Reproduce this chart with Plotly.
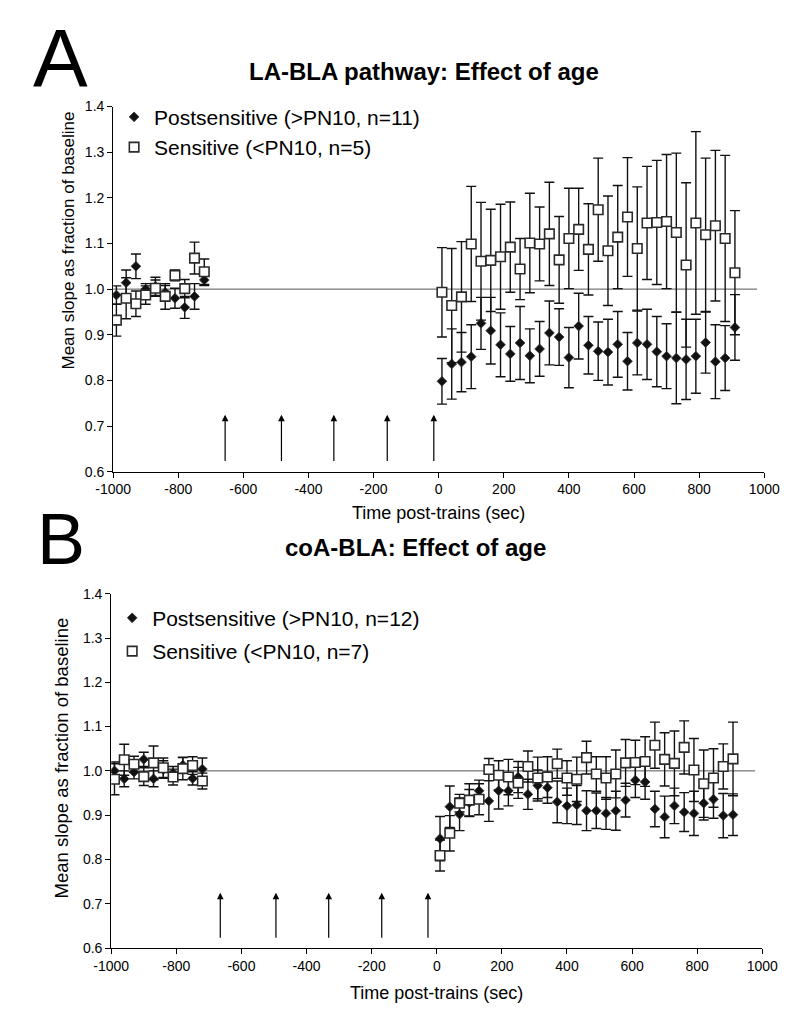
import plotly.graph_objects as go

# ---------------- data ----------------
pre_t = [-990, -960, -930, -900, -870, -840, -810, -780, -750, -720]
post_t = [10, 40, 70, 100, 130, 160, 190, 220, 250, 280, 310, 340, 370, 400, 430,
          460, 490, 520, 550, 580, 610, 640, 670, 700, 730, 760, 790, 820, 850, 880, 910]
time = pre_t + post_t

# Panel A: LA-BLA pathway
a_post_mean = [0.987, 1.014, 1.050, 1.000, 1.006, 0.993, 0.980, 0.960, 0.984, 1.020,
               0.798, 0.836, 0.840, 0.852, 0.925, 0.909, 0.878, 0.858, 0.882, 0.854,
               0.869, 0.904, 0.895, 0.850, 0.919, 0.877, 0.864, 0.862, 0.879, 0.842,
               0.882, 0.879, 0.863, 0.853, 0.849, 0.846, 0.853, 0.883, 0.841, 0.849, 0.916]
a_post_err = [0.020, 0.028, 0.027, 0.012, 0.020, 0.015, 0.022, 0.024, 0.028, 0.012,
              0.050, 0.077, 0.065, 0.070, 0.057, 0.073, 0.070, 0.060, 0.080, 0.059,
              0.060, 0.070, 0.062, 0.066, 0.072, 0.063, 0.064, 0.072, 0.072, 0.063,
              0.070, 0.077, 0.077, 0.071, 0.100, 0.088, 0.081, 0.067, 0.081, 0.071, 0.072]
a_sens_mean = [0.932, 0.980, 0.968, 0.987, 1.002, 0.984, 1.030, 1.001, 1.068, 1.038,
               0.993, 0.964, 0.983, 1.099, 1.061, 1.063, 1.071, 1.092, 1.044, 1.101,
               1.099, 1.121, 1.064, 1.111, 1.131, 1.087, 1.174, 1.084, 1.114, 1.158,
               1.089, 1.145, 1.146, 1.148, 1.124, 1.053, 1.145, 1.119, 1.139, 1.111, 1.036]
a_sens_err = [0.035, 0.045, 0.028, 0.020, 0.018, 0.028, 0.012, 0.020, 0.035, 0.028,
              0.098, 0.125, 0.121, 0.126, 0.129, 0.112, 0.115, 0.099, 0.067, 0.109,
              0.081, 0.113, 0.095, 0.110, 0.090, 0.100, 0.113, 0.120, 0.113, 0.130,
              0.135, 0.124, 0.136, 0.147, 0.174, 0.180, 0.200, 0.168, 0.165, 0.182, 0.136]
a_arrows = [-656, -483, -322, -158, -15]

# Panel B: coA-BLA
b_post_mean = [1.000, 0.982, 0.997, 1.026, 0.982, 1.003, 0.995, 1.013, 0.983, 1.004,
               0.847, 0.919, 0.902, 0.928, 0.955, 0.932, 0.955, 0.955, 0.986, 0.947,
               0.967, 0.962, 0.930, 0.921, 0.923, 0.910, 0.910, 0.904, 0.910, 0.934,
               0.979, 0.975, 0.914, 0.896, 0.921, 0.907, 0.904, 0.927, 0.936, 0.899, 0.901]
b_post_err = [0.020, 0.018, 0.015, 0.016, 0.018, 0.020, 0.015, 0.018, 0.015, 0.025,
              0.050, 0.047, 0.037, 0.030, 0.024, 0.046, 0.041, 0.034, 0.035, 0.034,
              0.035, 0.035, 0.047, 0.040, 0.044, 0.045, 0.040, 0.036, 0.044, 0.038,
              0.039, 0.039, 0.040, 0.047, 0.040, 0.044, 0.050, 0.038, 0.043, 0.050, 0.047]
b_sens_mean = [0.981, 1.025, 1.015, 0.987, 1.018, 1.007, 0.986, 1.005, 1.012, 0.977,
               0.809, 0.859, 0.927, 0.934, 0.936, 1.003, 0.990, 0.986, 0.973, 1.010,
               0.984, 0.986, 1.016, 0.984, 0.981, 1.030, 0.993, 0.984, 0.993, 1.018,
               1.019, 1.021, 1.058, 1.026, 1.017, 1.053, 1.002, 0.971, 0.984, 1.010, 1.027]
b_sens_err = [0.035, 0.035, 0.018, 0.020, 0.038, 0.022, 0.018, 0.025, 0.020, 0.018,
              0.035, 0.040, 0.020, 0.037, 0.035, 0.025, 0.033, 0.040, 0.035, 0.035,
              0.047, 0.046, 0.033, 0.039, 0.050, 0.037, 0.039, 0.048, 0.054, 0.053,
              0.050, 0.056, 0.052, 0.060, 0.073, 0.060, 0.071, 0.076, 0.066, 0.051, 0.083]
b_arrows = [-665, -494, -332, -169, -27]

baseline = 1.0
baseline_end = 978
arrow_from, arrow_to = 0.62, 0.725

x_ticks = [-1000, -800, -600, -400, -200, 0, 200, 400, 600, 800, 1000]
x_tick_text = ["-1000", "-800", "-600", "-400", "-200", "0", "200", "400", "600", "800", "1000"]
y_ticks = [0.6, 0.7, 0.8, 0.9, 1.0, 1.1, 1.2, 1.3, 1.4]

labels_a = ["Postsensitive (>PN10, n=11)", "Sensitive (<PN10, n=5)"]
labels_b = ["Postsensitive (>PN10, n=12)", "Sensitive (<PN10, n=7)"]

FONT = "Liberation Sans, Arial, sans-serif"
W, H = 800, 1012

fig = go.Figure()


def add_panel(fig, xa, ya, legend, post_m, post_e, sens_m, sens_e, labels):
    fig.add_trace(go.Scatter(
        x=time, y=post_m, mode="markers", name=labels[0],
        xaxis=xa, yaxis=ya, legend=legend, legendgroup=legend + "p",
        marker=dict(symbol="diamond", size=7.5, color="#111111",
                    line=dict(color="#333333", width=0.8)),
        error_y=dict(type="data", array=post_e, visible=True,
                     color="#111111", thickness=1.4, width=5),
    ))
    fig.add_trace(go.Scatter(
        x=time, y=sens_m, mode="markers", name=labels[1],
        xaxis=xa, yaxis=ya, legend=legend, legendgroup=legend + "s",
        marker=dict(symbol="square", size=9.5, color="white",
                    line=dict(color="#2a2a2a", width=1.6)),
        error_y=dict(type="data", array=sens_e, visible=True,
                     color="#111111", thickness=1.4, width=5),
    ))


add_panel(fig, "x", "y", "legend", a_post_mean, a_post_err, a_sens_mean, a_sens_err, labels_a)
add_panel(fig, "x2", "y2", "legend2", b_post_mean, b_post_err, b_sens_mean, b_sens_err, labels_b)


def px_x(p):
    return p / W


def px_y(p):
    return 1 - p / H


axis_common = dict(
    showgrid=False, zeroline=False, showline=True, linecolor="black", linewidth=1,
    ticks="outside", ticklen=5, tickcolor="black", tickwidth=1,
    tickfont=dict(family=FONT, size=14, color="black"),
)

fig.update_layout(
    width=W, height=H,
    margin=dict(l=0, r=0, t=0, b=0),
    paper_bgcolor="white", plot_bgcolor="white",
    font=dict(family=FONT, color="black"),
    xaxis=dict(domain=[px_x(91), px_x(771)], range=[-1000, 1000], tickvals=x_ticks,
               ticktext=x_tick_text, anchor="y", **axis_common),
    yaxis=dict(domain=[px_y(463), px_y(92)], range=[0.6, 1.4], tickvals=y_ticks,
               tickformat=".1f", anchor="x", **axis_common),
    xaxis2=dict(domain=[px_x(89), px_x(769)], range=[-1000, 1000], tickvals=x_ticks,
                ticktext=x_tick_text, anchor="y2", **axis_common),
    yaxis2=dict(domain=[px_y(947), px_y(587)], range=[0.6, 1.4], tickvals=y_ticks,
                tickformat=".1f", anchor="x2", **axis_common),
    legend=dict(x=px_x(92), y=px_y(82), xanchor="left", yanchor="top",
                bgcolor="rgba(0,0,0,0)", font=dict(family=FONT, size=21, color="black"),
                itemsizing="trace", traceorder="grouped", tracegroupgap=0),
    legend2=dict(x=px_x(90), y=px_y(591), xanchor="left", yanchor="top",
                 bgcolor="rgba(0,0,0,0)", font=dict(family=FONT, size=21, color="black"),
                 itemsizing="trace", traceorder="grouped", tracegroupgap=3),
    showlegend=True,
)

# baseline reference lines
for xr, yr in (("x", "y"), ("x2", "y2")):
    fig.add_shape(type="line", xref=xr, yref=yr, x0=-1000, x1=baseline_end,
                  y0=baseline, y1=baseline, line=dict(color="#555555", width=1), layer="below")

# arrows marking the trains
for t in a_arrows:
    fig.add_annotation(x=t, y=arrow_to, ax=t, ay=arrow_from, xref="x", yref="y",
                       axref="x", ayref="y", showarrow=True, arrowhead=2, arrowsize=1.1,
                       arrowwidth=1.2, arrowcolor="black", text="")
for t in b_arrows:
    fig.add_annotation(x=t, y=arrow_to, ax=t, ay=arrow_from, xref="x2", yref="y2",
                       axref="x2", ayref="y2", showarrow=True, arrowhead=2, arrowsize=1.1,
                       arrowwidth=1.2, arrowcolor="black", text="")

# titles and panel letters (anchored at bottom of their text boxes)
texts = [
    dict(text="A", x=5, y=90, size=82, xanchor="left"),
    dict(text="<b>LA-BLA pathway: Effect of age</b>", x=416, y=72, size=24, xanchor="center"),
    dict(text="B", x=9, y=574, size=72, xanchor="left"),
    dict(text="<b>coA-BLA: Effect of age</b>", x=407, y=556, size=24, xanchor="center"),
]
for t in texts:
    fig.add_annotation(text=t["text"], x=px_x(t["x"]), y=px_y(t["y"]), xref="paper",
                       yref="paper", xanchor=t["xanchor"], yanchor="bottom", showarrow=False,
                       font=dict(family=FONT, size=t["size"], color="black"))

# axis titles
for xc, yc in ((431, 505), (429, 993)):
    fig.add_annotation(text="Time post-trains (sec)", x=px_x(xc), y=px_y(yc), xref="paper",
                       yref="paper", showarrow=False, xanchor="center", yanchor="middle",
                       font=dict(family=FONT, size=18, color="black"))
for xc, yc, fs in ((44, 228, 17), (37, 754, 18.5)):
    fig.add_annotation(text="Mean slope as fraction of baseline", x=px_x(xc), y=px_y(yc),
                       xref="paper", yref="paper", showarrow=False, textangle=-90,
                       xanchor="center", yanchor="middle",
                       font=dict(family=FONT, size=fs, color="black"))

fig.write_html("out.html")
